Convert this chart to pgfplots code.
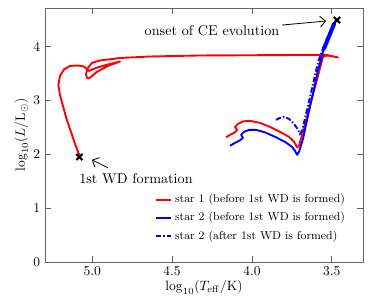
\documentclass[border=0pt]{standalone}
\usepackage{pgfplots}
\pgfplotsset{compat=1.18}
\usetikzlibrary{arrows.meta}
\begin{document}
\begin{tikzpicture}
\begin{axis}[
  name=ax,
  scale only axis,
  width=235.6pt, height=188.1pt,
  x dir=reverse,
  xmin=3.304, xmax=5.296,
  ymin=0, ymax=4.72,
  xtick={3.5,4.0,4.5,5.0},
  ytick={0,1,2,3,4},
  xticklabel style={/pgf/number format/.cd, fixed, fixed zerofill, precision=1},
  axis line style={black!60},
  major tick style={black!60, line width=0.6pt},
  major tick length=4.5pt,
  xlabel={$\log_{10}(T_\mathrm{eff}/\mathrm{K})$},
  ylabel={$\log_{10}(L/\mathrm{L}_\odot)$},
  xlabel style={yshift=3pt},
  ylabel style={yshift=-3pt},
  legend style={at={(0.965,0.06)}, anchor=south east, draw=none, fill=none,
    font=\fontsize{8.5}{10}\selectfont, row sep=1.5pt},
  legend cell align=left,
  legend image code/.code={\draw[#1] (0cm,0cm) -- (0.4cm,0cm);},
]
% star 1 (red)
\addplot[red, line width=1.4pt, line join=round] coordinates {
(4.162,2.319) (4.131,2.371) (4.106,2.408) (4.093,2.455) (4.106,2.510) (4.087,2.566)
(4.056,2.612) (4.012,2.622) (3.949,2.584) (3.887,2.510) (3.824,2.417) (3.768,2.325)
(3.736,2.232) (3.717,2.130) (3.705,2.158) (3.686,2.362) (3.655,2.696) (3.605,3.252)
(3.555,3.809) (3.529,3.837) (3.461,3.800) (3.529,3.846) (3.699,3.846) (4.325,3.837)
(4.638,3.818) (4.826,3.790) (4.952,3.744) (5.002,3.698) (5.027,3.605) (5.039,3.494)
(5.033,3.419) (5.021,3.410) (4.971,3.531) (4.902,3.642) (4.826,3.725) (4.902,3.670)
(4.977,3.605) (5.021,3.549) (5.052,3.633) (5.090,3.651) (5.140,3.642) (5.177,3.577)
(5.202,3.456) (5.212,3.289) (5.202,3.104) (5.180,2.863) (5.159,2.640) (5.133,2.417)
(5.108,2.195) (5.077,1.954)
};
\addlegendentry{star 1 (before 1st WD is formed)}
% star 2 before (blue solid)
\addplot[blue, line width=1.4pt, line join=round] coordinates {
(4.137,2.158) (4.106,2.213) (4.075,2.260) (4.056,2.306) (4.068,2.362) (4.050,2.417)
(4.018,2.455) (3.974,2.455) (3.918,2.408) (3.855,2.325) (3.793,2.232) (3.749,2.139)
(3.730,2.065) (3.717,1.991) (3.705,2.046) (3.680,2.288) (3.648,2.733) (3.617,3.141)
(3.586,3.568) (3.555,3.902) (3.517,4.180) (3.479,4.458) (3.467,4.514)
};
\addlegendentry{star 2 (before 1st WD is formed)}
% star 2 after (blue dash-dot)
\addplot[blue, line width=1.4pt, dash pattern=on 4pt off 1.5pt on 1pt off 1.5pt] coordinates {
(3.849,2.640) (3.824,2.677) (3.799,2.696) (3.768,2.659) (3.736,2.566) (3.711,2.455)
(3.699,2.380) (3.686,2.436) (3.661,2.751) (3.623,3.234) (3.586,3.716) (3.547,4.032)
(3.511,4.273) (3.473,4.495)
};
\addlegendentry{star 2 (after 1st WD is formed)}
% thick blob near CE onset
\addplot[blue, line width=3pt, line cap=round, forget plot] coordinates {
(3.547,3.976) (3.486,4.421)
};
% markers
\addplot[only marks, mark=x, mark size=3.2pt, black, line width=1.6pt, forget plot] coordinates {
(3.467,4.495) (5.080,1.950)
};
\draw[-{Straight Barb[length=4pt]}, black, line width=0.6pt] (axis cs:3.811,4.403) -- (axis cs:3.536,4.477);
\node[font=\fontsize{10.5}{12}\selectfont] at (axis cs:4.250,4.291) {onset of CE evolution};
\draw[-{Straight Barb[length=4pt]}, black, line width=0.6pt] (axis cs:4.902,1.750) -- (axis cs:5.002,1.898);
\node[font=\fontsize{10.5}{12}\selectfont] at (axis cs:4.726,1.545) {1st WD formation};
\end{axis}
\pgfresetboundingbox
\useasboundingbox ([xshift=-33.3pt,yshift=-27.4pt]ax.south west) rectangle ([xshift=8.1pt,yshift=5.9pt]ax.north east);
\end{tikzpicture}
\end{document}
